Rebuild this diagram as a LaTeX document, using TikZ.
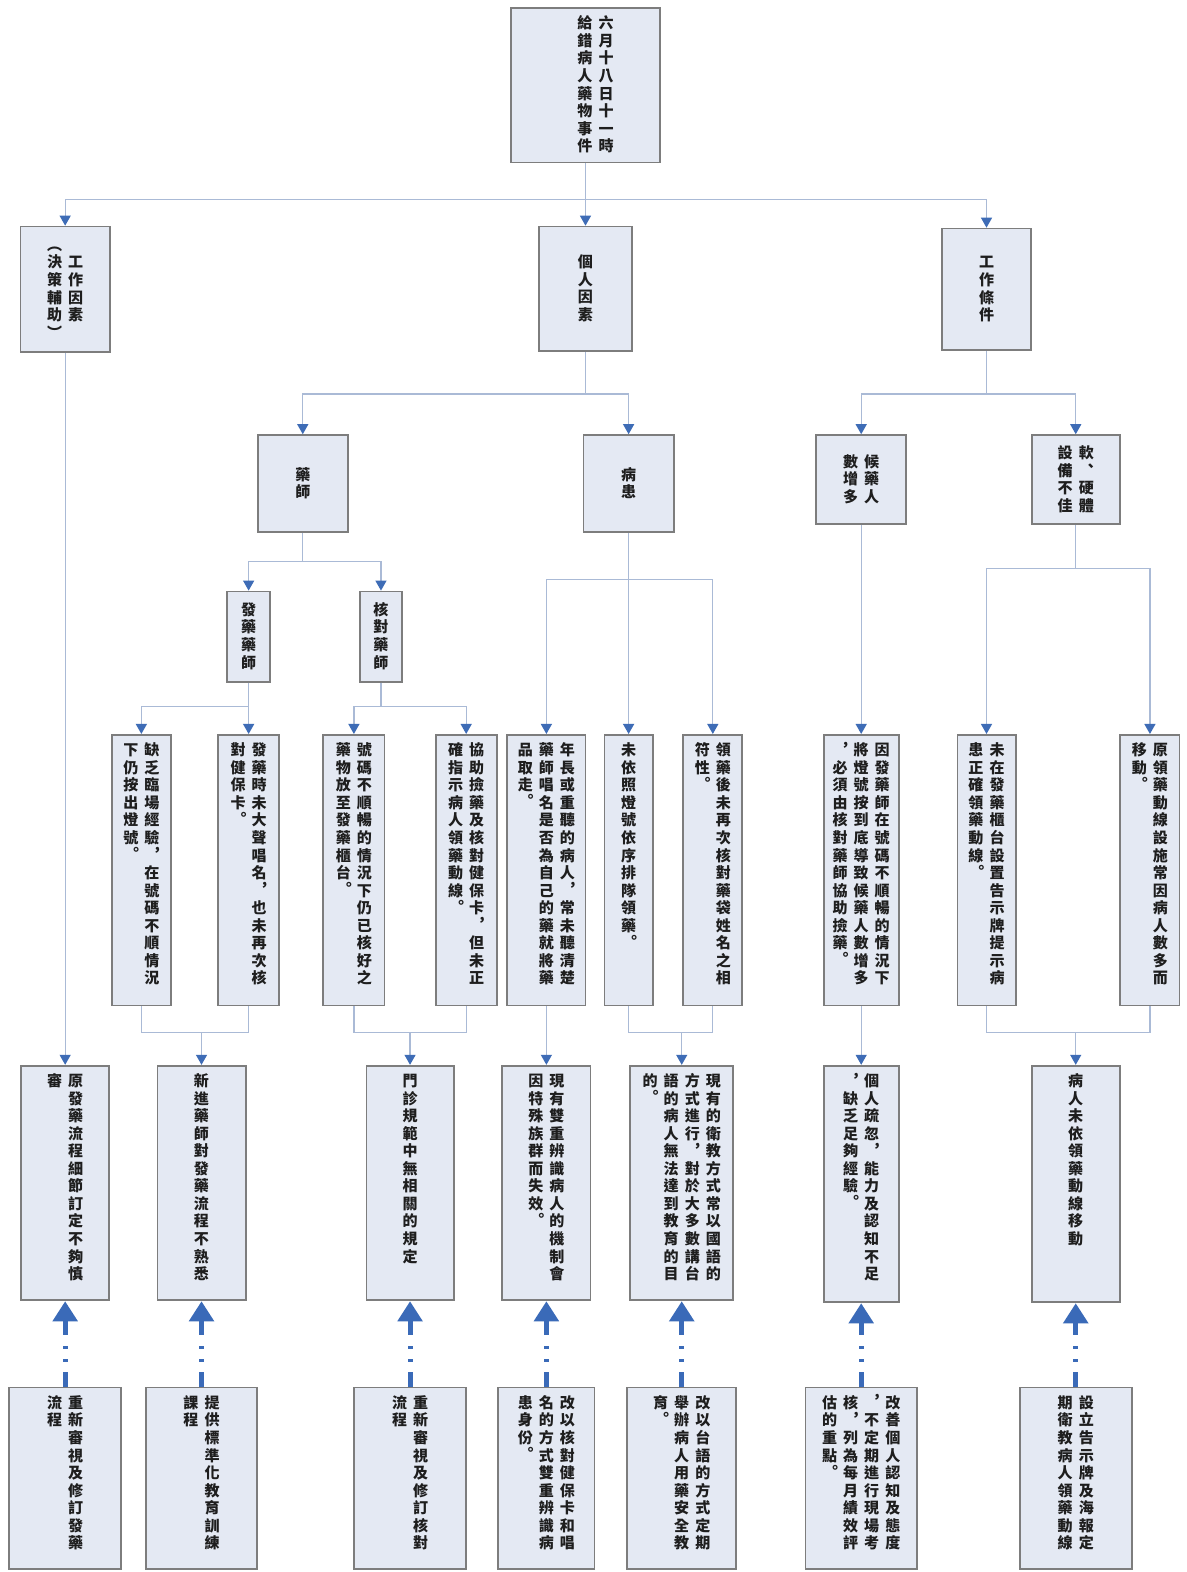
\documentclass[tikz,border=0pt]{standalone}
\usepackage{fontspec}
\setmainfont{Noto Sans CJK TC}
\usetikzlibrary{arrows.meta}

\definecolor{boxfill}{RGB}{228,233,243}
\definecolor{boxline}{RGB}{125,125,125}
\definecolor{linec}{RGB}{170,186,214}
\definecolor{tipc}{RGB}{62,108,182}
\definecolor{fixc}{RGB}{58,106,184}
\definecolor{textc}{RGB}{30,30,30}

% vertical text: one character per cell, columns set side by side
\newdimen\cellw \cellw=8pt
\newdimen\cellht \cellht=6.9pt
\newdimen\celldp \celldp=1.85pt
\newdimen\colgap \colgap=2.5pt
% full-width comma and stop are moved to the middle of their cell
\def\centp#1{\raise0.36em\hbox{\kern0.36em#1}\kern-0.36em}
\def\vglyph#1{\ifx#1，\centp{#1}\else\ifx#1。\centp{#1}\else#1\fi\fi}
\def\vcell#1{\hbox to\cellw{\hss\vrule height\cellht depth\celldp width0pt\relax\vglyph{#1}\hss}}
\def\vcolloop#1{\ifx\relax#1\else\vcell{#1}\expandafter\vcolloop\fi}
\newcommand\vcolT[1]{\vtop{\offinterlineskip\vcolloop#1\relax}}
\newcommand\vcolC[1]{\vcenter{\offinterlineskip\vcolloop#1\relax}}
\newcommand\cg{\kern\colgap}

\tikzset{
  box/.style={draw=boxline, fill=boxfill, line width=0.9pt, inner sep=0pt,
    text=textc, font=\fontsize{7.5}{9}\selectfont\bfseries},
  conn/.style={draw=linec, line width=0.6pt},
  arr/.style={conn, -{Triangle[length=5pt,width=5.5pt,color=tipc]}},
  fix/.style={draw=fixc, line width=2.5pt,
    dash pattern=on 7.5pt off 5pt on 1.5pt off 5pt on 1.5pt off 5.5pt,
    -{Triangle[length=10pt,width=12pt]}},
}

% box with columns aligned at the top: name, centre x, width, top y, bottom y, columns
\newcommand\tbx[6]{%
  \pgfmathsetlengthmacro\bxh{(#5-#4)*0.5}%
  \node[box, minimum width=#3*0.5pt, minimum height=\bxh] (#1) at (#2,{(#4+#5)/2})
    {\vbox to \bxh{\vskip 3.5pt\hbox{#6}\vss}};}
% box with vertically centred columns
\newcommand\cbx[6]{%
  \pgfmathsetlengthmacro\bxh{(#5-#4)*0.5}%
  \node[box, minimum width=#3*0.5pt, minimum height=\bxh] (#1) at (#2,{(#4+#5)/2})
    {\vbox to \bxh{\vss\hbox{$#6$}\vss}};}

\begin{document}
\begin{tikzpicture}[x=0.5pt,y=-0.5pt]
\path[use as bounding box, fill=white] (0,0) rectangle (1183,1568);

% event
\cbx{T}{584}{148}{8}{162}{\kern10pt\vcolC{給錯病人藥物事件}\cg\vcolC{六月十八日十一時}}

% main factors
\cbx{W1}{65}{89}{226}{351}{\vcolC{︵決策輔助︶}\cg\vcolC{工作因素}}
\cbx{W2}{584}{93}{226}{350}{\vcolC{個人因素}}
\cbx{W3}{984}{89}{228}{349}{\vcolC{工作條件}}

% sub factors
\cbx{P1}{302}{90}{434}{531}{\vcolC{藥師}}
\cbx{P2}{627}{90}{434}{531}{\vcolC{病患}}
\cbx{C1}{859}{90}{434}{523}{\vcolC{數增多}\cg\vcolC{候藥人}}
\cbx{C2}{1073}{88}{434}{523}{\vcolC{設備不佳}\cg\vcolC{軟︑硬體}}
\cbx{S1}{248}{43}{590}{680}{\vcolC{發藥藥師}}
\cbx{S2}{380}{42}{590}{680}{\vcolC{核對藥師}}

% observed causes
\tbx{A}{141}{59}{733}{1003}{\vcolT{下仍按出燈號。}\cg\vcolT{缺乏臨場經驗，在號碼不順情況}}
\tbx{B}{248}{61}{733}{1003}{\vcolT{對健保卡。}\cg\vcolT{發藥時未大聲唱名，也未再次核}}
\tbx{C}{353}{61}{733}{1003}{\vcolT{藥物放至發藥櫃台。}\cg\vcolT{號碼不順暢的情況下仍已核好之}}
\tbx{D}{465}{61}{733}{1003}{\vcolT{確指示病人領藥動線。}\cg\vcolT{協助撿藥及核對健保卡，但未正}}
\tbx{E}{545}{78}{733}{1003}{\vcolT{品取走。}\cg\vcolT{藥師唱名是否為自己的藥就將藥}\cg\vcolT{年長或重聽的病人，常未聽清楚}}
\tbx{F}{627}{48}{733}{1003}{\vcolT{未依照燈號依序排隊領藥。}}
\tbx{G}{711}{59}{733}{1003}{\vcolT{符性。}\cg\vcolT{領藥後未再次核對藥袋姓名之相}}
\tbx{H}{859}{75}{733}{1003}{\vcolT{，必須由核對藥師協助撿藥。}\cg\vcolT{將燈號按到底導致候藥人數增多}\cg\vcolT{因發藥師在號碼不順暢的情況下}}
\tbx{I}{984}{58}{733}{1003}{\vcolT{患正確領藥動線。}\cg\vcolT{未在發藥櫃台設置告示牌提示病}}
\tbx{J}{1147}{59}{733}{1003}{\vcolT{移動。}\cg\vcolT{原領藥動線設施常因病人數多而}}

% root causes
\tbx{Q}{65}{88}{1063}{1297}{\vcolT{審}\cg\vcolT{原發藥流程細節訂定不夠慎}}
\tbx{K}{201}{88}{1063}{1297}{\vcolT{新進藥師對發藥流程不熟悉}}
\tbx{L}{409}{87}{1063}{1297}{\vcolT{門診規範中無相關的規定}}
\tbx{M}{545}{88}{1063}{1297}{\vcolT{因特殊族群而失效。}\cg\vcolT{現有雙重辨識病人的機制會}}
\tbx{N}{680}{103}{1063}{1297}{\vcolT{的。}\cg\vcolT{語的病人無法達到教育的目}\cg\vcolT{方式進行，對於大多數講台}\cg\vcolT{現有的衛教方式常以國語的}}
\tbx{O}{859}{75}{1063}{1299}{\vcolT{，缺乏足夠經驗。}\cg\vcolT{個人疏忽，能力及認知不足}}
\tbx{P}{1073}{88}{1063}{1299}{\vcolT{病人未依領藥動線移動}}

% improvement actions
\tbx{R1}{65}{112}{1384}{1565}{\vcolT{流程}\cg\vcolT{重新審視及修訂發藥}}
\tbx{R2}{201}{111}{1384}{1565}{\vcolT{課程}\cg\vcolT{提供標準化教育訓練}}
\tbx{R3}{409}{112}{1384}{1565}{\vcolT{流程}\cg\vcolT{重新審視及修訂核對}}
\tbx{R4}{545}{96}{1384}{1565}{\vcolT{患身份。}\cg\vcolT{名的方式雙重辨識病}\cg\vcolT{改以核對健保卡和唱}}
\tbx{R5}{680}{109}{1384}{1565}{\vcolT{育。}\cg\vcolT{舉辦病人用藥安全教}\cg\vcolT{改以台語的方式定期}}
\tbx{R6}{859}{111}{1384}{1565}{\vcolT{估的重點。}\cg\vcolT{核，列為每月績效評}\cg\vcolT{，不定期進行現場考}\cg\vcolT{改善個人認知及態度}}
\tbx{R7}{1073}{112}{1384}{1565}{\vcolT{期衛教病人領藥動線}\cg\vcolT{設立告示牌及海報定}}

% tree connectors
\coordinate (j0) at (584,199);
\draw[conn] (T.south) -- (j0);
\draw[arr] (j0) -| (W1.north);
\draw[arr] (j0) -- (W2.north);
\draw[arr] (j0) -| (W3.north);

\coordinate (j1) at (584,393);
\draw[conn] (W2.south) -- (j1);
\draw[arr] (j1) -| (P1.north);
\draw[arr] (j1) -| (P2.north);

\coordinate (j2) at (984,393);
\draw[conn] (W3.south) -- (j2);
\draw[arr] (j2) -| (C1.north);
\draw[arr] (j2) -| (C2.north);

\coordinate (j3) at (302,560);
\draw[conn] (P1.south) -- (j3);
\draw[arr] (j3) -| (S1.north);
\draw[arr] (j3) -| (S2.north);

\coordinate (j4) at (248,705);
\draw[conn] (S1.south) -- (j4);
\draw[arr] (j4) -| (A.north);
\draw[arr] (j4) -- (B.north);

\coordinate (j5) at (380,705);
\draw[conn] (S2.south) -- (j5);
\draw[arr] (j5) -| (C.north);
\draw[arr] (j5) -| (D.north);

\coordinate (j6) at (627,578);
\draw[conn] (P2.south) -- (j6);
\draw[arr] (j6) -| (E.north);
\draw[arr] (j6) -- (F.north);
\draw[arr] (j6) -| (G.north);

\draw[arr] (C1.south) -- (H.north);

\coordinate (j7) at (1073,567);
\draw[conn] (C2.south) -- (j7);
\draw[arr] (j7) -| (I.north);
\draw[arr] (j7) -| (J.north);

\draw[arr] (W1.south) -- (Q.north);

% causes merging into root causes
\coordinate (m1) at (201,1030);
\draw[conn] (A.south) |- (m1) -| (B.south);
\draw[arr] (m1) -- (K.north);
\coordinate (m2) at (409,1030);
\draw[conn] (C.south) |- (m2) -| (D.south);
\draw[arr] (m2) -- (L.north);
\draw[arr] (E.south) -- (M.north);
\coordinate (m3) at (680,1030);
\draw[conn] (F.south) |- (m3) -| (G.south);
\draw[arr] (m3) -- (N.north);
\draw[arr] (H.south) -- (O.north);
\coordinate (m4) at (1073,1030);
\draw[conn] (I.south) |- (m4) -| (J.south);
\draw[arr] (m4) -- (P.north);

% actions pointing at the root causes
\foreach \u/\r in {Q/R1,K/R2,L/R3,M/R4,N/R5,O/R6,P/R7}
  \draw[fix] (\u.south |- \r.north) -- (\u.south);
\end{tikzpicture}
\end{document}
